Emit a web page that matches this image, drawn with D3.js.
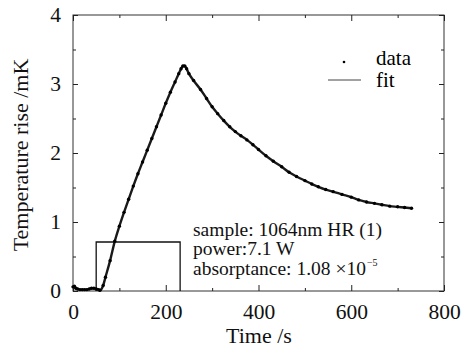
<!DOCTYPE html>
<html>
<head>
<meta charset="utf-8">
<script src="https://cdn.jsdelivr.net/npm/d3@7"></script>
<style>
  body { margin: 0; background: #fff; }
</style>
</head>
<body>
<div id="chart"></div>
<script>
const timeS = [0, 3, 6, 10, 15, 20, 25, 30, 35, 40, 45, 50, 55, 58,
  65, 70, 80, 90, 100, 110, 120, 130, 140, 150, 160, 170, 180, 190, 200, 210, 220, 228, 233, 237,
  241, 245, 250, 260, 275, 288, 300, 312, 325, 338, 350, 362, 375, 388, 400, 416, 432, 450, 466, 482,
  500, 515, 529, 545, 561, 580, 600, 616, 633, 650, 666, 683, 700, 715, 730];
// temperature rise (mK)
const riseMK = [0.06, 0.07, 0.04, 0.03, 0.02, 0.02, 0.02, 0.02, 0.03, 0.04, 0.04, 0.03, 0.02, 0.01,
  0.08, 0.20, 0.44, 0.72, 0.94, 1.14, 1.33, 1.52, 1.70, 1.87, 2.04, 2.21, 2.38, 2.55, 2.72, 2.88, 3.03, 3.15, 3.22, 3.26,
  3.26, 3.22, 3.15, 3.05, 2.92, 2.79, 2.67, 2.57, 2.47, 2.38, 2.31, 2.25, 2.19, 2.12, 2.05, 1.96, 1.88, 1.80, 1.72, 1.66,
  1.60, 1.55, 1.51, 1.47, 1.44, 1.40, 1.36, 1.32, 1.29, 1.27, 1.25, 1.23, 1.22, 1.21, 1.20];

// laser on/off window (s) and its drawn level (mK)
const laserTimes = [50, 231];
const laserLevel = 0.71;

const xTicks = [0, 200, 400, 600, 800];
const xMinor = [100, 300, 500, 700];
const yTicks = [0, 1, 2, 3, 4];
const yMinor = [0.5, 1.5, 2.5, 3.5];

const noteLines = ["sample: 1064nm HR (1)", "power:7.1 W", "absorptance: 1.08 \u00d710"];

const W = 462, H = 354;
const plotL = 73, plotR = 444, plotT = 15, plotB = 291;
const serif = '"Liberation Serif", "DejaVu Serif", "Times New Roman", serif';

const svg = d3.select("#chart").append("svg")
  .attr("width", W).attr("height", H)
  .style("font-family", serif);

const x = d3.scaleLinear().domain([0, 800]).range([plotL, plotR]);
const y = d3.scaleLinear().domain([0, 4]).range([plotB, plotT]);

// frame
svg.append("rect")
  .attr("x", plotL).attr("y", plotT)
  .attr("width", plotR - plotL).attr("height", plotB - plotT)
  .attr("fill", "none").attr("stroke", "#333").attr("stroke-width", 1);

function styleAxis(g) {
  g.attr("font-family", null);
  g.select(".domain").remove();
  g.selectAll(".tick line").attr("stroke", "#222");
  g.selectAll("text").style("font-family", serif).style("font-size", "21.5px").attr("fill", "#111");
}

// bottom
svg.append("g").attr("transform", `translate(0,${plotB})`)
  .call(d3.axisBottom(x).tickValues(xTicks).tickSizeInner(-6).tickSizeOuter(0).tickPadding(13))
  .call(styleAxis);
svg.append("g").attr("transform", `translate(0,${plotB})`)
  .call(d3.axisBottom(x).tickValues(xMinor).tickSizeInner(-3).tickSizeOuter(0).tickFormat(""))
  .call(styleAxis);
// top
svg.append("g").attr("transform", `translate(0,${plotT})`)
  .call(d3.axisTop(x).tickValues(xTicks).tickSizeInner(-6).tickSizeOuter(0).tickFormat(""))
  .call(styleAxis);
svg.append("g").attr("transform", `translate(0,${plotT})`)
  .call(d3.axisTop(x).tickValues(xMinor).tickSizeInner(-3).tickSizeOuter(0).tickFormat(""))
  .call(styleAxis);
// left
svg.append("g").attr("transform", `translate(${plotL},0)`)
  .call(d3.axisLeft(y).tickValues(yTicks).tickSizeInner(-5).tickSizeOuter(0).tickPadding(12).tickFormat(d3.format("d")))
  .call(styleAxis);
svg.append("g").attr("transform", `translate(${plotL},0)`)
  .call(d3.axisLeft(y).tickValues(yMinor).tickSizeInner(-3).tickSizeOuter(0).tickFormat(""))
  .call(styleAxis);
// right
svg.append("g").attr("transform", `translate(${plotR},0)`)
  .call(d3.axisRight(y).tickValues(yTicks).tickSizeInner(-5).tickSizeOuter(0).tickFormat(""))
  .call(styleAxis);
svg.append("g").attr("transform", `translate(${plotR},0)`)
  .call(d3.axisRight(y).tickValues(yMinor).tickSizeInner(-3).tickSizeOuter(0).tickFormat(""))
  .call(styleAxis);

// laser window
svg.append("path")
  .attr("d", d3.line()([
    [x(laserTimes[0]), y(0)], [x(laserTimes[0]), y(laserLevel)],
    [x(laserTimes[1]), y(laserLevel)], [x(laserTimes[1]), y(0)]
  ]))
  .attr("fill", "none").attr("stroke", "#111").attr("stroke-width", 1.3);

const pts = timeS.map((t, i) => [t, riseMK[i]]);

// fit curve
svg.append("path")
  .datum(pts)
  .attr("d", d3.line().x(d => x(d[0])).y(d => y(d[1])).curve(d3.curveMonotoneX))
  .attr("fill", "none").attr("stroke", "#1a1a1a").attr("stroke-width", 2.4);

// data dots
svg.append("g").selectAll("circle")
  .data(pts)
  .join("circle")
  .attr("cx", d => x(d[0])).attr("cy", d => y(d[1]))
  .attr("r", 1.7).attr("fill", "#000");

// legend
svg.append("circle").attr("cx", 344).attr("cy", 62).attr("r", 1.3).attr("fill", "#000");
svg.append("text").attr("x", 376).attr("y", 65).style("font-size", "21px").text("data");
svg.append("line").attr("x1", 328).attr("x2", 361).attr("y1", 80).attr("y2", 80)
  .attr("stroke", "#444").attr("stroke-width", 1);
svg.append("text").attr("x", 376).attr("y", 87).style("font-size", "21px").text("fit");

// annotation
const noteY = [235.5, 255, 274.5];
const notes = svg.append("g").selectAll("text")
  .data(noteLines)
  .join("text")
  .attr("x", 193).attr("y", (d, i) => noteY[i])
  .style("font-size", "19.5px")
  .attr("fill", "#111")
  .text(d => d);
const lastW = notes.nodes()[2].getComputedTextLength();
svg.append("text").attr("x", 193 + lastW + 1).attr("y", noteY[2] - 9)
  .style("font-size", "10px").attr("fill", "#111").text("\u22125");

// axis titles
svg.append("text")
  .attr("x", 259).attr("y", 343)
  .attr("text-anchor", "middle")
  .style("font-size", "22px")
  .attr("fill", "#111")
  .text("Time /s");
svg.append("text")
  .attr("transform", "translate(28,155) rotate(-90)")
  .attr("text-anchor", "middle")
  .style("font-size", "22px")
  .attr("fill", "#111")
  .text("Temperature rise /mK");
</script>
</body>
</html>
